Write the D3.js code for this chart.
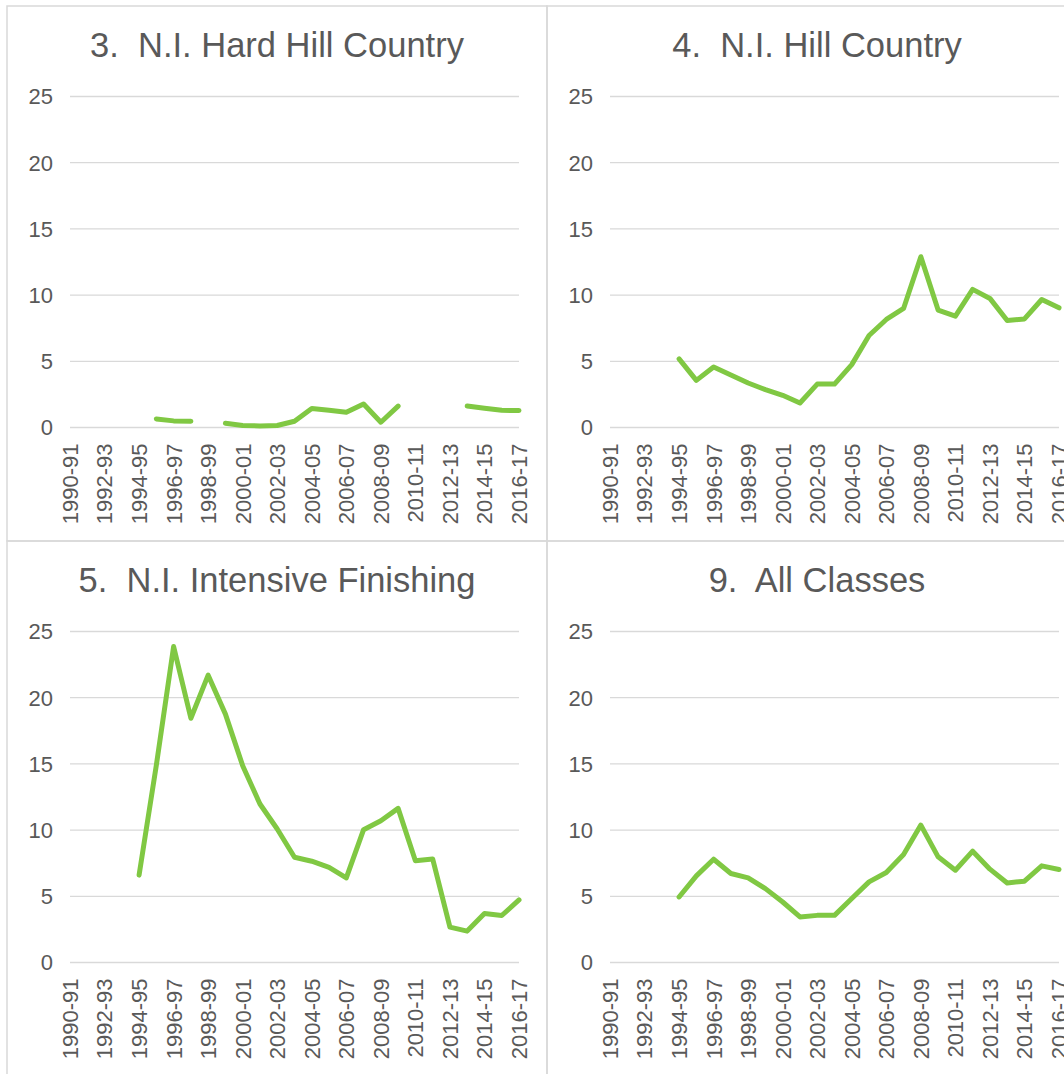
<!DOCTYPE html>
<html>
<head>
<meta charset="utf-8">
<script src="https://cdn.jsdelivr.net/npm/d3@7"></script>
<style>
  html, body { margin: 0; padding: 0; background: #fff; }
  svg { display: block; }
  text { font-family: "Liberation Sans", Arial, sans-serif; fill: #595959; }
  .title { white-space: pre; }
</style>
</head>
<body>
<div id="chart"></div>
<script>
// Seasons 1990-91 .. 2016-17
const seasons = d3.range(1990, 2017).map(y => `${y}-${String((y + 1) % 100).padStart(2, "0")}`)

const yTicks = [0, 5, 10, 15, 20, 25]

const titles = [
  "3.  N.I. Hard Hill Country",
  "4.  N.I. Hill Country",
  "5.  N.I. Intensive Finishing",
  "9.  All Classes"
]

const hardHill = [null, null, null, null, null, 0.65, 0.5, 0.48, null, 0.32, 0.15, 0.12, 0.15, 0.47,
  1.43, 1.3, 1.15, 1.78, 0.4, 1.62, null, null, null, 1.62, 1.45, 1.3, 1.28]

const hillCountry = [null, null, null, null, 5.18, 3.56, 4.57, 3.97, 3.36, 2.86, 2.43, 1.85, 3.28, 3.28,
  4.75, 6.95, 8.16, 8.99, 12.9, 8.87, 8.41, 10.43, 9.75, 8.08, 8.2, 9.67, 9.04]

const intensiveFinishing = [null, null, null, null, 6.6, 14.9, 23.86, 18.45, 21.7, 18.76, 14.86, 11.97, 10.08, 7.95,
  7.65, 7.19, 6.39, 10.03, 10.71, 11.64, 7.69, 7.82, 2.67, 2.37, 3.7, 3.55, 4.73]

const allClasses = [null, null, null, null, 4.95, 6.54, 7.8, 6.72, 6.39, 5.58, 4.57, 3.44, 3.56, 3.56,
  4.83, 6.09, 6.8, 8.16, 10.38, 7.98, 6.97, 8.41, 7.05, 6.01, 6.14, 7.3, 7.02]

const seriesList = [hardHill, hillCountry, intensiveFinishing, allClasses]

const width = 1064
const height = 1074
const panelW = 540
const panelH = 535
const origin = { x: 7, y: 6 }
const plot = { left: 63, width: 449, top: 90.5, bottom: 421.5 }

const svg = d3.select("#chart")
  .append("svg")
  .attr("width", width)
  .attr("height", height)
  .attr("viewBox", [0, 0, width, height])

const x = d3.scalePoint()
  .domain(seasons)
  .range([plot.left, plot.left + plot.width])

const y = d3.scaleLinear()
  .domain([0, 25])
  .range([plot.bottom, plot.top])

seriesList.forEach((values, i) => {
  const px = origin.x + (i % 2) * panelW
  const py = origin.y + Math.floor(i / 2) * panelH

  const g = svg.append("g")
    .attr("transform", `translate(${px},${py})`)

  // Panel frame
  g.append("rect")
    .attr("x", 0)
    .attr("y", 0)
    .attr("width", panelW)
    .attr("height", panelH)
    .attr("fill", "none")
    .attr("stroke", "#d9d9d9")
    .attr("stroke-width", 1.5)

  // Title
  g.append("text")
    .attr("class", "title")
    .attr("x", panelW / 2)
    .attr("y", 51)
    .attr("text-anchor", "middle")
    .attr("font-size", "34.5px")
    .text(titles[i])

  // Gridlines
  g.selectAll(".grid")
    .data(yTicks)
    .enter()
    .append("line")
    .attr("class", "grid")
    .attr("x1", plot.left)
    .attr("x2", plot.left + plot.width)
    .attr("y1", d => y(d))
    .attr("y2", d => y(d))
    .attr("stroke", "#d9d9d9")
    .attr("stroke-width", 1.3)

  // Y labels
  g.selectAll(".ylab")
    .data(yTicks)
    .enter()
    .append("text")
    .attr("class", "ylab")
    .attr("x", plot.left - 17)
    .attr("y", d => y(d))
    .attr("dy", "0.36em")
    .attr("text-anchor", "end")
    .attr("font-size", "22px")
    .text(d => d)

  // X labels (every second season)
  g.selectAll(".xlab")
    .data(seasons.filter((d, j) => j % 2 === 0))
    .enter()
    .append("text")
    .attr("class", "xlab")
    .attr("transform", d => `translate(${x(d)},${plot.bottom + 16}) rotate(-90)`)
    .attr("dy", "0.36em")
    .attr("text-anchor", "end")
    .attr("font-size", "22px")
    .text(d => d)

  // Line
  const line = d3.line()
    .defined(d => d.v !== null)
    .x(d => x(d.s))
    .y(d => y(d.v))

  g.append("path")
    .datum(seasons.map((s, j) => ({ s, v: values[j] })))
    .attr("fill", "none")
    .attr("stroke", "#80c843")
    .attr("stroke-width", 5)
    .attr("stroke-linejoin", "round")
    .attr("stroke-linecap", "round")
    .attr("d", line)
})
</script>
</body>
</html>
